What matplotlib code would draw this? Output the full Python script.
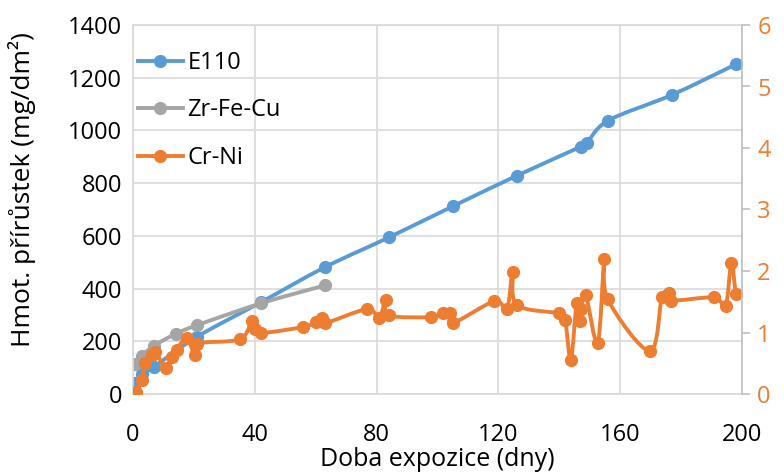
import numpy as np
import matplotlib
matplotlib.use("Agg")
import matplotlib.pyplot as plt
from matplotlib.path import Path
from matplotlib.patches import PathPatch
from matplotlib.lines import Line2D

plt.rcParams['font.family'] = ['Open Sans', 'DejaVu Sans']

# --- data -------------------------------------------------------------
e110_days = [0.5, 3, 7, 21, 42, 63, 84, 105, 126, 147, 149, 156, 177, 198]
e110_gain = [42, 75, 104, 217, 348, 481, 594, 712, 828, 938, 951, 1037, 1135, 1251]

zr_days = [0.5, 3, 7, 14, 21, 42, 63]
zr_gain = [112, 146, 184, 228, 261, 344, 412]

crni_days = [1, 2.8, 3.9, 6.1, 7.2, 10.9, 12.7, 14.3, 17.6, 20.3, 20.9, 35, 39, 40,
             42, 55.8, 60, 62, 63, 76.8, 80.8, 83, 84, 97.9, 101.7, 104.2, 105,
             118.7, 122.8, 124.7, 126, 140, 141.9, 143.8, 145.7, 146.8, 147.1,
             148.7, 152.6, 154.8, 155.9, 169.7, 173.7, 176.1, 176.6, 190.8,
             194.6, 196.5, 197.9]
crni_gain = [0.04, 0.22, 0.50, 0.63, 0.69, 0.42, 0.60, 0.72, 0.91, 0.63, 0.82, 0.89,
             1.18, 1.06, 0.99, 1.09, 1.17, 1.24, 1.15, 1.38, 1.24, 1.53, 1.28,
             1.25, 1.31, 1.31, 1.15, 1.51, 1.38, 1.99, 1.45, 1.31, 1.21, 0.56,
             1.48, 1.19, 1.38, 1.61, 0.83, 2.19, 1.54, 0.70, 1.57, 1.65, 1.52,
             1.57, 1.43, 2.13, 1.62]

x_ticks = [0, 40, 80, 120, 160, 200]
left_ticks = [0, 200, 400, 600, 800, 1000, 1200, 1400]
right_ticks = [0, 1, 2, 3, 4, 5, 6]

BLUE = '#5B9BD5'
GRAY = '#A5A5A5'
ORANGE = '#ED7D31'
GRID = '#D9D9D9'
FS = 17
LW = 2.8
MS = 8.5


def smooth_path(x, y):
    """Cubic Bezier path through the points (Catmull-Rom style smoothing)."""
    pts = np.column_stack([x, y]).astype(float)
    verts = [pts[0]]
    codes = [Path.MOVETO]
    n = len(pts)
    for i in range(n - 1):
        p0 = pts[i - 1] if i > 0 else pts[i]
        p1 = pts[i]
        p2 = pts[i + 1]
        p3 = pts[i + 2] if i + 2 < n else pts[i + 1]
        c1 = p1 + (p2 - p0) / 6.0
        c2 = p2 - (p3 - p1) / 6.0
        verts += [c1, c2, p2]
        codes += [Path.CURVE4] * 3
    return Path(verts, codes)


def draw_series(ax, x, y, color):
    patch = PathPatch(smooth_path(x, y), facecolor='none', edgecolor=color,
                      lw=LW, capstyle='round', joinstyle='round')
    ax.add_patch(patch)
    ax.plot(x, y, linestyle='none', marker='o', ms=MS, color=color)


fig = plt.figure(figsize=(7.84, 4.73), dpi=100)
ax = fig.add_axes([133 / 784, 1 - 394 / 473, (742 - 133) / 784, (394 - 25) / 473])
ax2 = ax.twinx()

draw_series(ax, e110_days, e110_gain, BLUE)
draw_series(ax, zr_days, zr_gain, GRAY)
draw_series(ax2, crni_days, crni_gain, ORANGE)

ax.set_xlim(0, 200)
ax.set_ylim(0, 1400)
ax2.set_ylim(0, 6)
ax.set_xticks(x_ticks)
ax.set_yticks(left_ticks)
ax2.set_yticks(right_ticks)

ax.grid(True, color=GRID, lw=1.2)
ax.set_axisbelow(True)
for side in ['left', 'bottom', 'top']:
    ax.spines[side].set_color(GRID)
    ax.spines[side].set_linewidth(1.2)
    ax2.spines[side].set_visible(False)
ax.spines['right'].set_visible(False)
ax2.spines['right'].set_color('#BFBFBF')
ax2.spines['right'].set_linewidth(1.2)

ax.tick_params(axis='both', length=0, labelsize=FS, colors='black')
ax.tick_params(axis='y', pad=8)
ax.tick_params(axis='x', pad=21)
ax2.tick_params(axis='y', length=6, width=1.2, color='#BFBFBF', labelsize=FS,
                labelcolor=ORANGE, pad=5)

ax.set_xlabel('Doba expozice (dny)', fontsize=18)
ax.xaxis.set_label_coords(0.5, -0.143)
ax.set_ylabel('Hmot. přírůstek (mg/dm²)', fontsize=19, va='center')
ax.yaxis.set_label_coords(-0.182, 0.553)

handles = [Line2D([], [], color=c, lw=LW, marker='o', ms=MS)
           for c in (BLUE, GRAY, ORANGE)]
ax2.legend(handles, ['E110', 'Zr-Fe-Cu', 'Cr-Ni'], loc='upper left',
           bbox_to_anchor=(0.008, 0.93), frameon=False, fontsize=FS,
           borderpad=0, borderaxespad=0,
           handlelength=1.9, handletextpad=0.2, labelspacing=1.0)

fig.savefig('out.png', dpi=100)
